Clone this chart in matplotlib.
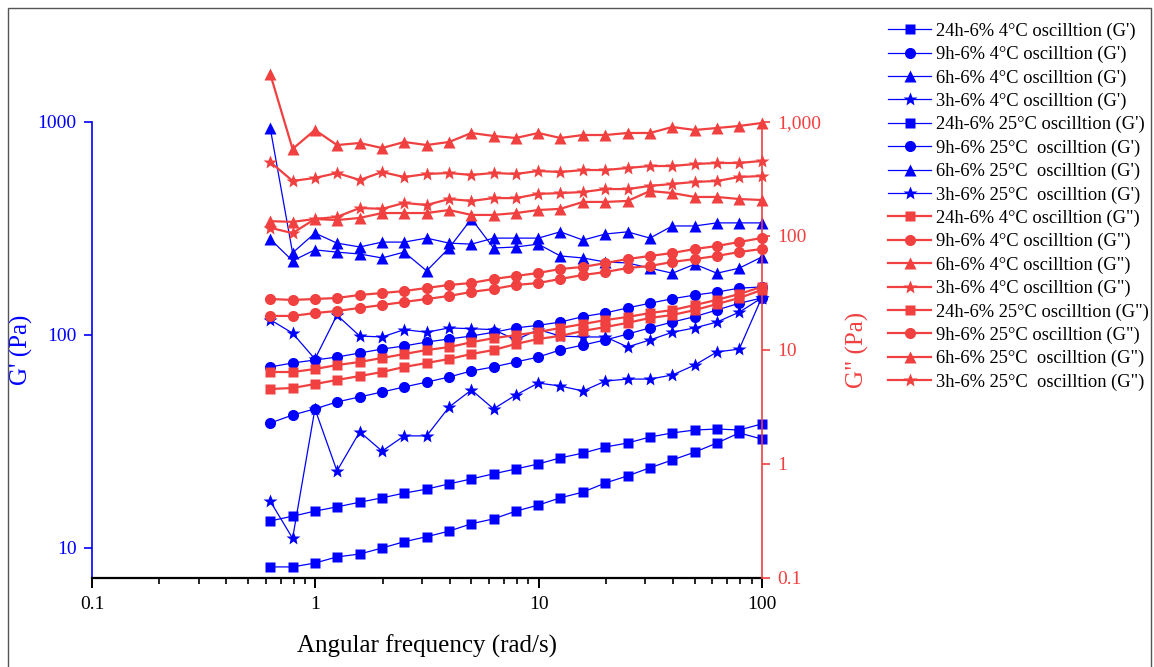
import matplotlib
matplotlib.use("Agg")
import matplotlib.pyplot as plt
from matplotlib.ticker import FixedLocator, NullLocator, FixedFormatter, LogLocator, NullFormatter
from matplotlib.patches import Rectangle

plt.rcParams["font.family"] = ["Liberation Serif", "DejaVu Serif"]

# angular frequency sweep (rad/s)
freq = [0.628, 0.791, 0.996, 1.25, 1.58, 1.99, 2.50, 3.15, 3.97, 5.00, 6.28, 7.91,
        9.96, 12.5, 15.8, 19.9, 25.0, 31.5, 39.7, 50.0, 62.8, 79.1, 99.5]

# storage modulus G' (Pa)
g1_24h_4 = [13.4, 14.1, 14.9, 15.6, 16.4, 17.2, 18.1, 18.9, 20.0, 21.1, 22.3, 23.5,
            24.8, 26.5, 27.9, 29.8, 31.1, 33.2, 34.7, 35.8, 36.2, 35.8, 38.2]
g1_9h_4 = [70.8, 73.9, 76.3, 78.8, 82.3, 85.9, 88.8, 92.7, 95.8, 98.9, 103, 108,
           111, 115, 122, 127, 134, 141, 148, 154, 159, 166, 168]
g1_6h_4 = [938, 243, 301, 270, 259, 273, 273, 285, 270, 267, 285, 285,
           285, 305, 279, 298, 305, 285, 325, 325, 336, 336, 336]
g1_3h_4 = [118, 102, 77.1, 124, 98.9, 97.9, 106, 103, 108, 107, 106, 94.8,
           106, 98.9, 97.9, 97.9, 87.9, 94.8, 103, 108, 115, 128, 149]
g1_24h_25 = [8.15, 8.15, 8.5, 9.08, 9.37, 10.0, 10.7, 11.3, 12.0, 13.0, 13.7, 14.9,
             15.9, 17.2, 18.3, 20.2, 21.8, 23.8, 25.9, 28.2, 31.1, 34.7, 32.5]
g1_9h_25 = [38.6, 42.1, 45.0, 48.5, 51.2, 54.0, 57.0, 60.1, 63.5, 67.8, 70.8, 74.7,
            78.8, 85.1, 89.7, 94.8, 101, 108, 115, 122, 131, 141, 149]
g1_6h_25 = [282, 223, 251, 245, 240, 230, 245, 200, 256, 351, 256, 259,
            267, 235, 230, 220, 218, 206, 195, 215, 195, 206, 232]
g1_3h_25 = [16.6, 11.1, 45.0, 23.0, 35.1, 28.5, 33.6, 33.6, 45.9, 55.2, 45.0, 52.3,
            59.5, 57.6, 54.6, 60.8, 62.1, 62.1, 64.9, 72.3, 83.2, 85.9, 149]

# loss modulus G'' (Pa)
g2_24h_4 = [6.41, 6.41, 6.81, 7.38, 7.85, 8.51, 9.22, 10.0, 10.6, 11.7, 12.7, 13.5,
            14.4, 15.6, 16.9, 18.3, 19.5, 21.1, 22.4, 24.8, 27.5, 31.0, 35.7]
g2_9h_4 = [28.0, 27.5, 28.0, 28.6, 30.4, 31.6, 32.9, 35.0, 37.2, 38.7, 42.0, 44.6,
           47.4, 51.4, 53.5, 57.9, 62.8, 66.8, 71.0, 76.9, 81.7, 88.6, 96.0]
g2_6h_4 = [2640, 580, 851, 628, 654, 591, 668, 628, 668, 801, 754, 724,
           801, 724, 769, 769, 801, 801, 904, 851, 886, 923, 980]
g2_3h_4 = [446, 304, 323, 357, 310, 364, 329, 350, 357, 343, 357, 350,
           372, 364, 379, 379, 395, 411, 411, 428, 437, 437, 455]
g2_24h_25 = [4.55, 4.64, 5.03, 5.46, 5.91, 6.41, 7.10, 7.69, 8.34, 9.22, 10.0, 11.3,
             12.5, 13.3, 14.7, 15.9, 17.3, 19.1, 20.3, 22.4, 25.3, 28.6, 33.6]
g2_9h_25 = [19.9, 19.9, 21.1, 22.0, 23.4, 24.8, 26.4, 28.0, 29.8, 32.3, 34.3, 37.2,
            38.7, 42.0, 45.5, 48.3, 52.4, 54.6, 59.2, 62.8, 66.8, 72.4, 76.9]
g2_6h_25 = [135, 133, 141, 138, 144, 159, 159, 159, 169, 153, 153, 159,
            169, 173, 199, 199, 203, 248, 238, 220, 220, 211, 207]
g2_3h_25 = [118, 106, 141, 147, 176, 173, 195, 187, 211, 203, 215, 215,
            234, 238, 243, 258, 258, 275, 286, 298, 304, 329, 336]

g1_series = [
    (g1_24h_4, "s", "24h-6% 4°C oscilltion (G')"),
    (g1_9h_4, "o", "9h-6% 4°C oscilltion (G')"),
    (g1_6h_4, "^", "6h-6% 4°C oscilltion (G')"),
    (g1_3h_4, "*", "3h-6% 4°C oscilltion (G')"),
    (g1_24h_25, "s", "24h-6% 25°C oscilltion (G')"),
    (g1_9h_25, "o", "9h-6% 25°C  oscilltion (G')"),
    (g1_6h_25, "^", "6h-6% 25°C  oscilltion (G')"),
    (g1_3h_25, "*", "3h-6% 25°C  oscilltion (G')"),
]
g2_series = [
    (g2_24h_4, "s", "24h-6% 4°C oscilltion (G\")"),
    (g2_9h_4, "o", "9h-6% 4°C oscilltion (G\")"),
    (g2_6h_4, "^", "6h-6% 4°C oscilltion (G\")"),
    (g2_3h_4, "*", "3h-6% 4°C oscilltion (G\")"),
    (g2_24h_25, "s", "24h-6% 25°C oscilltion (G\")"),
    (g2_9h_25, "o", "9h-6% 25°C oscilltion (G\")"),
    (g2_6h_25, "^", "6h-6% 25°C  oscilltion (G\")"),
    (g2_3h_25, "*", "3h-6% 25°C  oscilltion (G\")"),
]

BLUE = "#0000FF"
RED = "#F04040"
msize = {"s": 6.8, "o": 8, "^": 8, "*": 10}

fig = plt.figure(figsize=(11.54, 6.67), dpi=100)
ax = fig.add_axes([92 / 1154, 89 / 667, 670 / 1154, 456 / 667])
ax2 = ax.twinx()

handles = []
for vals, mk, lab in g1_series:
    h, = ax.plot(freq, vals, color=BLUE, marker=mk, ms=msize[mk], mec="none",
                 lw=0.9, clip_on=False, label=lab)
    handles.append(h)
for vals, mk, lab in g2_series:
    h, = ax2.plot(freq, vals, color=RED, marker=mk, ms=msize[mk], mec="none",
                  lw=1.6, clip_on=False, label=lab)
    handles.append(h)

# x axis
ax.set_xscale("log")
ax.set_xlim(0.1, 100)
ax.xaxis.set_major_locator(FixedLocator([0.1, 1, 10, 100]))
ax.xaxis.set_major_formatter(FixedFormatter(["0.1", "1", "10", "100"]))
ax.xaxis.set_minor_locator(LogLocator(base=10, subs=range(2, 10)))
ax.xaxis.set_minor_formatter(NullFormatter())
ax.set_xlabel("Angular frequency (rad/s)", fontsize=18)
ax.xaxis.set_label_coords(0.5, -0.125)

# left axis: G'
ax.set_yscale("log")
ax.set_ylim(7.23, 1000)
ax.yaxis.set_major_locator(FixedLocator([10, 100, 1000]))
ax.yaxis.set_major_formatter(FixedFormatter(["10", "100", "1000"]))
ax.yaxis.set_minor_locator(NullLocator())
ax.set_ylabel("G' (Pa)", fontsize=18, color=BLUE)
ax.yaxis.set_label_coords(-0.088, 0.5)

# right axis: G''
ax2.set_yscale("log")
ax2.set_ylim(0.1, 1000)
ax2.yaxis.set_major_locator(FixedLocator([0.1, 1, 10, 100, 1000]))
ax2.yaxis.set_major_formatter(FixedFormatter(["0.1", "1", "10", "100", "1,000"]))
ax2.yaxis.set_minor_locator(NullLocator())
ax2.set_ylabel('G" (Pa)', fontsize=18, color=RED)
ax2.yaxis.set_label_coords(1.125, 0.5)

for s in ["top", "right"]:
    ax.spines[s].set_visible(False)
for s in ["top", "left", "bottom"]:
    ax2.spines[s].set_visible(False)
ax.spines["left"].set_color(BLUE)
ax.spines["left"].set_linewidth(1.2)
ax.spines["bottom"].set_color("black")
ax.spines["bottom"].set_linewidth(1.6)
ax2.spines["right"].set_color(RED)
ax2.spines["right"].set_linewidth(1.2)

ax.tick_params(axis="x", which="major", direction="out", length=7, width=1.4,
               labelsize=14, pad=6)
ax.tick_params(axis="x", which="minor", direction="out", length=4, width=1.2)
ax.tick_params(axis="y", which="major", direction="out", length=6, width=1.2,
               color=BLUE, labelcolor=BLUE, labelsize=14, pad=5)
ax2.tick_params(axis="y", which="major", direction="out", length=6, width=1.2,
                color=RED, labelcolor=RED, labelsize=14, pad=5)

fig.legend(handles=handles, loc="upper left", bbox_to_anchor=(881 / 1154, 1 - 15 / 667),
           frameon=False, fontsize=13.3, handlelength=2.3, handletextpad=0.3,
           labelspacing=0.33, borderaxespad=0)

# outer frame around the figure
fig.patches.append(Rectangle((8 / 1154, -0.01), 1143 / 1154, 1 - 8 / 667 + 0.01,
                             transform=fig.transFigure, fill=False,
                             edgecolor="#555555", lw=1.0))

fig.savefig("out.png", dpi=100)
